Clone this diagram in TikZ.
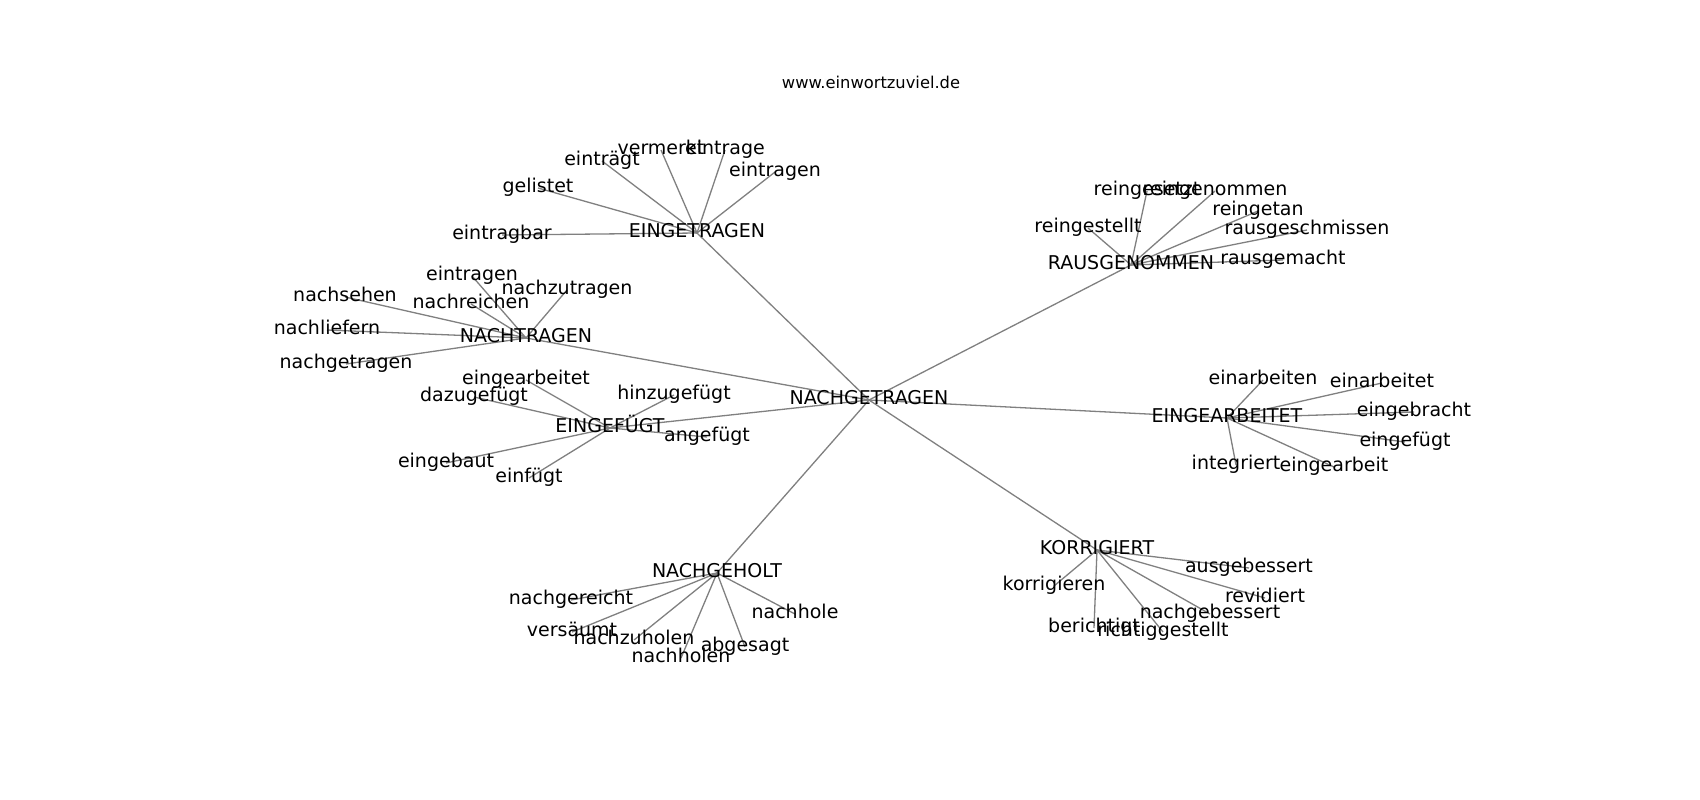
\documentclass[tikz,border=0pt]{standalone}
\usepackage{fontspec}
\setmainfont{DejaVu Sans}
\usetikzlibrary{backgrounds}
\tikzset{
  lbl/.style={inner sep=0pt, outer sep=0pt, anchor=center, text height=1em, text depth=0.1em, font=\fontsize{19}{23}\selectfont, text=black},
  edge/.style={draw=gray, line width=1.3pt},
  ttl/.style={inner sep=0pt, anchor=base, font=\fontsize{16.3}{20}\selectfont, text=black}
}
\begin{document}
\begin{tikzpicture}[x=1pt,y=-1pt]
\useasboundingbox (0,0) rectangle (1700,800);
\node[ttl] (title) at (871,88.5) {www.einwortzuviel.de};
% hubs
\node[lbl] (ng) at (869,400) {NACHGETRAGEN};
\node[lbl] (eg) at (697,233) {EINGETRAGEN};
\node[lbl] (nt) at (526,338) {NACHTRAGEN};
\node[lbl] (ef) at (610,428) {EINGEFÜGT};
\node[lbl] (rg) at (1131,265) {RAUSGENOMMEN};
\node[lbl] (ea) at (1227,418) {EINGEARBEITET};
\node[lbl] (nh) at (717,573) {NACHGEHOLT};
\node[lbl] (ko) at (1097,550) {KORRIGIERT};
% EINGETRAGEN leaves
\node[lbl] (eg1) at (502,235) {eintragbar};
\node[lbl] (eg2) at (538,188) {gelistet};
\node[lbl] (eg3) at (602,161) {einträgt};
\node[lbl] (eg4) at (661,150) {vermerkt};
\node[lbl] (eg5) at (725,150) {eintrage};
\node[lbl] (eg6) at (775,172) {eintragen};
% NACHTRAGEN leaves
\node[lbl] (nt1) at (472,276) {eintragen};
\node[lbl] (nt2) at (567,290) {nachzutragen};
\node[lbl] (nt3) at (471,304) {nachreichen};
\node[lbl] (nt4) at (345,297) {nachsehen};
\node[lbl] (nt5) at (327,330) {nachliefern};
\node[lbl] (nt6) at (346,364) {nachgetragen};
% EINGEFUEGT leaves
\node[lbl] (ef1) at (526,380) {eingearbeitet};
\node[lbl] (ef2) at (474,397) {dazugefügt};
\node[lbl] (ef3) at (674,395) {hinzugefügt};
\node[lbl] (ef4) at (707,437) {angefügt};
\node[lbl] (ef5) at (446,463) {eingebaut};
\node[lbl] (ef6) at (529,478) {einfügt};
% RAUSGENOMMEN leaves
\node[lbl] (rg1) at (1147,191) {reingesetzt};
\node[lbl] (rg2) at (1215,191) {reingenommen};
\node[lbl] (rg3) at (1258,211) {reingetan};
\node[lbl] (rg4) at (1088,228) {reingestellt};
\node[lbl] (rg5) at (1307,230) {rausgeschmissen};
\node[lbl] (rg6) at (1283,260) {rausgemacht};
% EINGEARBEITET leaves
\node[lbl] (ea1) at (1263,380) {einarbeiten};
\node[lbl] (ea2) at (1382,383) {einarbeitet};
\node[lbl] (ea3) at (1414,412) {eingebracht};
\node[lbl] (ea4) at (1405,442) {eingefügt};
\node[lbl] (ea5) at (1236,465) {integriert};
\node[lbl] (ea6) at (1334,467) {eingearbeit};
% NACHGEHOLT leaves
\node[lbl] (nh1) at (571,600) {nachgereicht};
\node[lbl] (nh2) at (572,632) {versäumt};
\node[lbl] (nh3) at (634,640) {nachzuholen};
\node[lbl] (nh4) at (681,658) {nachholen};
\node[lbl] (nh5) at (745,647) {abgesagt};
\node[lbl] (nh6) at (795,614) {nachhole};
% KORRIGIERT leaves
\node[lbl] (ko1) at (1249,568) {ausgebessert};
\node[lbl] (ko2) at (1054,586) {korrigieren};
\node[lbl] (ko3) at (1265,598) {revidiert};
\node[lbl] (ko4) at (1210,614) {nachgebessert};
\node[lbl] (ko5) at (1094,628) {berichtigt};
\node[lbl] (ko6) at (1163,632) {richtiggestellt};
\begin{pgfonlayer}{background}
\fill[white] (0,0) rectangle (1700,800);
\foreach \h in {eg,nt,ef,rg,ea,nh,ko} {\draw[edge] (ng.center) -- (\h.center);}
\foreach \h in {eg,nt,ef,rg,ea,nh,ko} {
  \foreach \i in {1,...,6} {\draw[edge] (\h.center) -- (\h\i.center);}
}
\end{pgfonlayer}
\end{tikzpicture}
\end{document}
